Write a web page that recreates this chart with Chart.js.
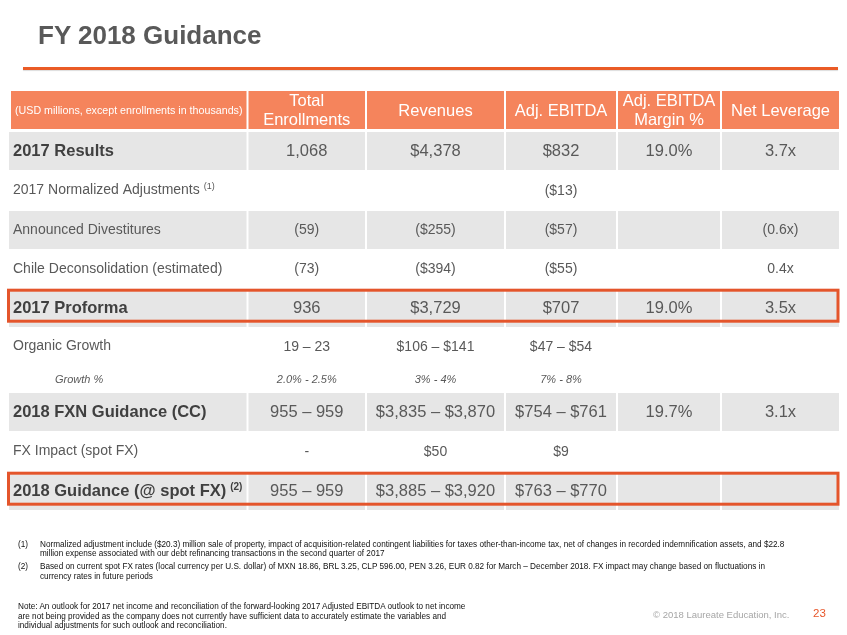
<!DOCTYPE html>
<html>
<head>
<meta charset="utf-8">
<script src="https://cdn.jsdelivr.net/npm/chart.js@4.4.0/dist/chart.umd.min.js"></script>
<style>
  body { margin: 0; background: #fff; font-family: "Liberation Sans", Arial, sans-serif; }
  #wrap { position: relative; width: 847px; height: 635px; overflow: hidden; }
  #table { position: absolute; left: 0; top: 0; }
  .title { position: absolute; left: 38px; top: 20px; font-size: 26px; font-weight: bold; color: #595959; line-height: 30px; }
  .rule { position: absolute; left: 23px; top: 67px; width: 815px; height: 3px; background: #ea5b26; box-shadow: 0 1px 1px #ddd; }
  .fn { position: absolute; left: 0; font-size: 8.2px; line-height: 9.7px; color: #111; white-space: nowrap; }
  .fn .m { position: absolute; left: 18px; }
  .fn .t { position: absolute; left: 40px; }
  .note { position: absolute; left: 18px; top: 602px; font-size: 8.2px; line-height: 9.5px; color: #111; white-space: nowrap; }
  .copy { position: absolute; left: 653px; top: 609px; font-size: 9.5px; color: #a6a6a6; }
  .page { position: absolute; left: 813px; top: 607px; font-size: 11.5px; color: #e8562a; }
</style>
</head>
<body>
<div id="wrap">
  <canvas id="table" width="847" height="635"></canvas>
  <div class="title">FY 2018 Guidance</div>
  <div class="rule"></div>
  <div class="fn" style="top:539.5px"><span class="m">(1)</span><span class="t">Normalized adjustment include ($20.3) million sale of property, impact of acquisition-related contingent liabilities for taxes other-than-income tax, net of changes in recorded indemnification assets, and $22.8<br>million expense associated with our debt refinancing transactions in the second quarter of 2017</span></div>
  <div class="fn" style="top:562px"><span class="m">(2)</span><span class="t">Based on current spot FX rates (local currency per U.S. dollar) of MXN 18.86, BRL 3.25, CLP 596.00, PEN 3.26, EUR 0.82 for March – December 2018. FX impact may change based on fluctuations in<br>currency rates in future periods</span></div>
  <div class="note">Note: An outlook for 2017 net income and reconciliation of the forward-looking 2017 Adjusted EBITDA outlook to net income<br>are not being provided as the company does not currently have sufficient data to accurately estimate the variables and<br>individual adjustments for such outlook and reconciliation.</div>
  <div class="copy">© 2018 Laureate Education, Inc.</div>
  <div class="page">23</div>
</div>
<script>
// table content
const headers = ['(USD millions, except enrollments in thousands)', 'Total\nEnrollments', 'Revenues', 'Adj. EBITDA', 'Adj. EBITDA\nMargin %', 'Net Leverage'];
const rowLabels = ['2017 Results', '2017 Normalized Adjustments', 'Announced Divestitures', 'Chile Deconsolidation (estimated)', '2017 Proforma', 'Organic Growth', 'Growth %', '2018 FXN Guidance (CC)', 'FX Impact (spot FX)', '2018 Guidance (@ spot FX)'];
const labelNotes = ['', '(1)', '', '', '', '', '', '', '', '(2)'];
const enrollments = ['1,068', '', '(59)', '(73)', '936', '19 – 23', '2.0% - 2.5%', '955 – 959', '-', '955 – 959'];
const revenues = ['$4,378', '', '($255)', '($394)', '$3,729', '$106 – $141', '3% - 4%', '$3,835 – $3,870', '$50', '$3,885 – $3,920'];
const ebitda = ['$832', '($13)', '($57)', '($55)', '$707', '$47 – $54', '7% - 8%', '$754 – $761', '$9', '$763 – $770'];
const ebitdaMargin = ['19.0%', '', '', '', '19.0%', '', '', '19.7%', '', ''];
const netLeverage = ['3.7x', '', '(0.6x)', '0.4x', '3.5x', '', '', '3.1x', '', ''];
const rowKinds = ['total', 'normal', 'shaded', 'normal', 'total', 'normal', 'sub', 'total', 'normal', 'total'];
const boxedRows = [4, 9];

// layout (in scale units)
const colEdges = [9, 247.5, 366, 505, 617, 721, 839];
const rowEdges = [132, 170, 211, 249, 289, 327, 366, 393, 431, 472, 510];
const headerBand = [91, 129];

const FONT = '"Liberation Sans", Arial, sans-serif';
const ORANGE = '#f5845c';
const GRAY = '#e6e6e6';
const RED = '#e4552b';

const tablePlugin = {
  id: 'tablePlugin',
  beforeDatasetsDraw(chart) {
    const { ctx, scales: { x, y } } = chart;
    const px = v => x.getPixelForValue(v);
    const py = v => y.getPixelForValue(v);
    const cols = [null, enrollments, revenues, ebitda, ebitdaMargin, netLeverage];
    const cellX = c => [px(colEdges[c] + (c > 0 ? 1 : 0)), px(colEdges[c + 1] - (c < 5 ? 1 : 0))];

    ctx.save();
    // header
    headers.forEach((h, c) => {
      let [x0, x1] = cellX(c);
      if (c === 0) x0 = px(colEdges[0] + 2);
      const y0 = py(headerBand[0]), y1 = py(headerBand[1]);
      ctx.fillStyle = ORANGE;
      ctx.fillRect(x0, y0, x1 - x0, y1 - y0);
      ctx.fillStyle = '#fff';
      ctx.textAlign = 'center';
      ctx.textBaseline = 'middle';
      ctx.font = (c === 0 ? '10.7px ' : '16.5px ') + FONT;
      const lines = h.split('\n');
      const mid = (y0 + y1) / 2 + 1;
      lines.forEach((t, i) => ctx.fillText(t, (x0 + x1) / 2, mid + (i - (lines.length - 1) / 2) * 19));
    });

    // rows
    rowLabels.forEach((label, r) => {
      const kind = rowKinds[r];
      const y0 = py(rowEdges[r]), y1 = py(rowEdges[r + 1]);
      const mid = (y0 + y1) / 2;
      if (kind === 'total' || kind === 'shaded') {
        ctx.fillStyle = GRAY;
        for (let c = 0; c < 6; c++) {
          const [x0, x1] = cellX(c);
          ctx.fillRect(x0, y0, x1 - x0, y1 - y0);
        }
      }
      let labelFont, valueFont, labelColor = '#595959', lx = px(13);
      if (kind === 'total') { labelFont = 'bold 16.5px ' + FONT; valueFont = '16.5px ' + FONT; labelColor = '#404040'; }
      else if (kind === 'sub') { labelFont = 'italic 11px ' + FONT; valueFont = 'italic 11px ' + FONT; lx = px(55); }
      else { labelFont = '14px ' + FONT; valueFont = '14px ' + FONT; }

      ctx.textBaseline = 'middle';
      ctx.textAlign = 'left';
      ctx.font = labelFont;
      ctx.fillStyle = labelColor;
      ctx.fillText(label, lx, mid);
      if (labelNotes[r]) {
        const w = ctx.measureText(label).width;
        ctx.font = (kind === 'total' ? 'bold 10px ' : '9px ') + FONT;
        ctx.fillText(labelNotes[r], lx + w + 4, mid - 4);
      }
      ctx.textAlign = 'center';
      ctx.font = valueFont;
      ctx.fillStyle = '#595959';
      for (let c = 1; c < 6; c++) {
        const v = cols[c][r];
        if (!v) continue;
        const [x0, x1] = cellX(c);
        ctx.fillText(v, (x0 + x1) / 2, mid + 0.5);
      }
    });

    // highlighted rows
    ctx.strokeStyle = RED;
    ctx.lineWidth = 3;
    boxedRows.forEach(r => {
      const x0 = px(colEdges[0] - 0.5), x1 = px(colEdges[6] - 1);
      const y0 = py(rowEdges[r] + 1.2), y1 = py(rowEdges[r + 1] - 5.8);
      ctx.strokeRect(x0, y0, x1 - x0, y1 - y0);
    });
    ctx.restore();
  }
};

new Chart(document.getElementById('table'), {
  type: 'bar',
  data: { labels: [], datasets: [{ data: [] }] },
  options: {
    responsive: false,
    animation: false,
    layout: { padding: 0, autoPadding: false },
    plugins: { legend: { display: false }, tooltip: { enabled: false } },
    scales: {
      x: { type: 'linear', min: 0, max: 847, offset: false, display: false },
      y: { type: 'linear', min: 0, max: 635, reverse: true, offset: false, display: false }
    }
  },
  plugins: [tablePlugin]
});
</script>
</body>
</html>
